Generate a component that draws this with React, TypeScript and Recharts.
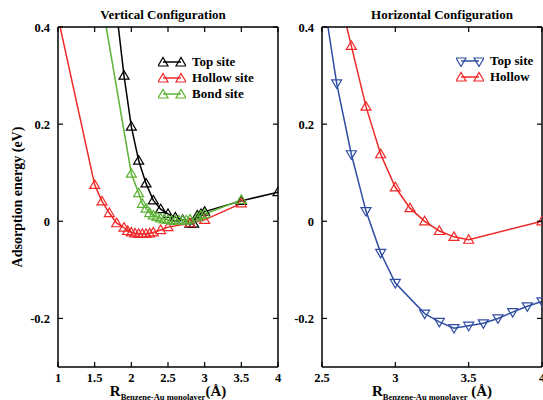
import { LineChart, Line, XAxis, YAxis, Legend } from 'recharts';

const FONT = '"Liberation Serif", "Times New Roman", serif';
const BLACK = '#000000';
const RED = '#f02828';
const GREEN = '#5cb336';
const BLUE = '#2f4da3';

// Vertical configuration (left panel)
const vTopR = [1.8, 1.9, 2.0, 2.1, 2.2, 2.3, 2.4, 2.5, 2.6, 2.7, 2.8, 2.85, 2.9, 2.95, 3.0, 3.5, 4.0];
const vTopE = [0.43, 0.3, 0.195, 0.125, 0.078, 0.043, 0.025, 0.015, 0.008, 0.003, -0.005, -0.005, 0.012, 0.015, 0.02, 0.042, 0.06];

const vHollowR = [1.0, 1.5, 1.6, 1.7, 1.8, 1.9, 1.95, 2.0, 2.05, 2.1, 2.15, 2.2, 2.25, 2.3, 2.4, 2.5, 2.8, 3.0, 3.5];
const vHollowE = [0.42, 0.075, 0.041, 0.017, -0.004, -0.013, -0.02, -0.023, -0.025, -0.026, -0.026, -0.026, -0.025, -0.023, -0.018, -0.012, -0.004, 0.003, 0.037];

const vBondR = [1.6, 2.0, 2.1, 2.15, 2.2, 2.25, 2.3, 2.35, 2.4, 2.45, 2.5, 2.55, 2.6, 2.65, 2.7, 2.75, 2.8, 2.9, 2.95, 3.0, 3.5];
const vBondE = [0.45, 0.098, 0.058, 0.036, 0.026, 0.017, 0.012, 0.009, 0.006, 0.004, 0.003, 0.002, 0.001, 0.002, 0.002, 0.002, 0.004, 0.008, 0.012, 0.015, 0.044];

// Horizontal configuration (right panel)
const hTopR = [2.5, 2.6, 2.7, 2.8, 2.9, 3.0, 3.2, 3.3, 3.4, 3.5, 3.6, 3.7, 3.8, 3.9, 4.0];
const hTopE = [0.48, 0.284, 0.138, 0.021, -0.065, -0.127, -0.19, -0.207, -0.22, -0.215, -0.21, -0.2, -0.187, -0.175, -0.165];

const hHollowR = [2.6, 2.7, 2.8, 2.9, 3.0, 3.1, 3.2, 3.3, 3.4, 3.5, 4.0];
const hHollowE = [0.486, 0.361, 0.236, 0.138, 0.07, 0.027, 0.0, -0.02, -0.032, -0.038, 0.0];

const yTicks = [-0.2, 0, 0.2, 0.4];
const vTicksX = [1, 1.5, 2, 2.5, 3, 3.5, 4];
const hTicksX = [2.5, 3, 3.5, 4];

const zip = (xs: number[], ys: number[]) => xs.map((x, i) => ({ x, e: ys[i] }));

const tickText = { fontFamily: FONT, fontWeight: 'bold' as const, fontSize: 12.5, fill: '#000' };

const triangle = (color: string, down = false) => (props: any) => {
  const { cx, cy, index } = props;
  if (cx == null || cy == null) return <g key={index} />;
  const pts = down
    ? `${cx - 5},${cy - 3.5} ${cx + 5},${cy - 3.5} ${cx},${cy + 5}`
    : `${cx - 5},${cy + 3.5} ${cx + 5},${cy + 3.5} ${cx},${cy - 5}`;
  return <polygon key={index} points={pts} fill="none" stroke={color} strokeWidth={1.2} />;
};

const BottomTick = ({ x, y, payload }: any) => (
  <g>
    <line x1={x} x2={x} y1={y} y2={y - 5} stroke="#000" strokeWidth={1.2} />
    <text x={x} y={y + 15} textAnchor="middle" style={tickText}>{payload.value}</text>
  </g>
);
const TopTick = ({ x, y }: any) => <line x1={x} x2={x} y1={y} y2={y + 5} stroke="#000" strokeWidth={1.2} />;
const LeftTick = ({ x, y, payload }: any) => (
  <g>
    <line x1={x} x2={x + 5} y1={y} y2={y} stroke="#000" strokeWidth={1.2} />
    <text x={x - 8} y={y + 4.5} textAnchor="end" style={tickText}>{payload.value}</text>
  </g>
);
const RightTick = ({ x, y }: any) => <line x1={x} x2={x - 5} y1={y} y2={y} stroke="#000" strokeWidth={1.2} />;

type Item = { label: string; color: string; down?: boolean };

const legendContent = (items: Item[]) => () => (
  <div style={{ fontFamily: FONT, fontWeight: 'bold', fontSize: 13, color: '#000' }}>
    {items.map((it) => (
      <div key={it.label} style={{ display: 'flex', alignItems: 'center', height: 16 }}>
        <svg width={28} height={12}>
          <line x1={5} x2={23} y1={6} y2={6} stroke={it.color} strokeWidth={1.5} />
          {triangle(it.color, it.down)({ cx: 5, cy: 6.5, index: 0 })}
          {triangle(it.color, it.down)({ cx: 23, cy: 6.5, index: 1 })}
        </svg>
        <span style={{ marginLeft: 6 }}>{it.label}</span>
      </div>
    ))}
  </div>
);

const frame = { stroke: '#000', strokeWidth: 1.5 };

function Panel({ domainX, ticksX, children }: { domainX: [number, number]; ticksX: number[]; children: any }) {
  return (
    <LineChart width={290} height={400} margin={{ top: 26, right: 11, bottom: 0, left: 0 }}>
      <XAxis dataKey="x" type="number" domain={domainX} ticks={ticksX} allowDataOverflow height={33}
        tickSize={0} tickMargin={0} tick={<BottomTick />} axisLine={frame} interval={0} />
      <XAxis xAxisId="top" dataKey="x" orientation="top" type="number" domain={domainX} ticks={ticksX} allowDataOverflow height={1}
        tickSize={0} tickMargin={0} tick={<TopTick />} axisLine={frame} interval={0} />
      <YAxis type="number" domain={[-0.3, 0.4]} ticks={yTicks} allowDataOverflow width={58}
        tickSize={0} tickMargin={0} tick={<LeftTick />} axisLine={frame} interval={0} />
      <YAxis yAxisId="right" orientation="right" type="number" domain={[-0.3, 0.4]} ticks={yTicks} allowDataOverflow width={1}
        tickSize={0} tickMargin={0} tick={<RightTick />} axisLine={frame} interval={0} />
      {children}
    </LineChart>
  );
}

const label = { position: 'absolute' as const, fontWeight: 'bold' as const, lineHeight: '16px', whiteSpace: 'nowrap' as const, textAlign: 'center' as const, width: 200 };

export default function App() {
  return (
    <div style={{ position: 'absolute', left: 0, top: 0, width: 543, height: 400, overflow: 'hidden', background: '#fff', fontFamily: FONT }}>
      <div style={{ position: 'absolute', left: 0, top: 0 }}>
        <Panel domainX={[1, 4]} ticksX={vTicksX}>
          <Line data={zip(vTopR, vTopE)} dataKey="e" stroke={BLACK} strokeWidth={1.5} dot={triangle(BLACK)} isAnimationActive={false} />
          <Line data={zip(vHollowR, vHollowE)} dataKey="e" stroke={RED} strokeWidth={1.5} dot={triangle(RED)} isAnimationActive={false} />
          <Line data={zip(vBondR, vBondE)} dataKey="e" xAxisId="top" yAxisId="right" stroke={GREEN} strokeWidth={1.5} dot={triangle(GREEN)} isAnimationActive={false} />
          <Legend layout="vertical" align="center" verticalAlign="middle"
            wrapperStyle={{ left: 158, top: 54, width: 120 }}
            content={legendContent([
              { label: 'Top site', color: BLACK },
              { label: 'Hollow site', color: RED },
              { label: 'Bond site', color: GREEN },
            ])} />
        </Panel>
      </div>
      <div style={{ position: 'absolute', left: 264, top: 0 }}>
        <Panel domainX={[2.5, 4]} ticksX={hTicksX}>
          <Line data={zip(hTopR, hTopE)} dataKey="e" stroke={BLUE} strokeWidth={1.5} dot={triangle(BLUE, true)} isAnimationActive={false} />
          <Line data={zip(hHollowR, hHollowE)} dataKey="e" xAxisId="top" yAxisId="right" stroke={RED} strokeWidth={1.5} dot={triangle(RED)} isAnimationActive={false} />
          <Legend layout="vertical" align="center" verticalAlign="middle"
            wrapperStyle={{ left: 192, top: 53, width: 100 }}
            content={legendContent([
              { label: 'Top site', color: BLUE, down: true },
              { label: 'Hollow', color: RED },
            ])} />
        </Panel>
      </div>

      <div style={{ ...label, left: 63, top: 7, fontSize: 13 }}>Vertical Configuration</div>
      <div style={{ ...label, left: 342, top: 7, fontSize: 13 }}>Horizontal Configuration</div>
      <div style={{ ...label, left: -82, top: 189, fontSize: 14, transform: 'rotate(-90deg)' }}>Adsorption energy (eV)</div>
      <div style={{ ...label, left: 68, top: 383, fontSize: 15 }}>
        R<sub style={{ fontSize: 8.5 }}>Benzene-Au monolayer</sub>(Å)
      </div>
      <div style={{ ...label, left: 332, top: 383, fontSize: 15 }}>
        R<sub style={{ fontSize: 8.5 }}>Benzene-Au monolayer</sub> (Å)
      </div>
    </div>
  );
}
